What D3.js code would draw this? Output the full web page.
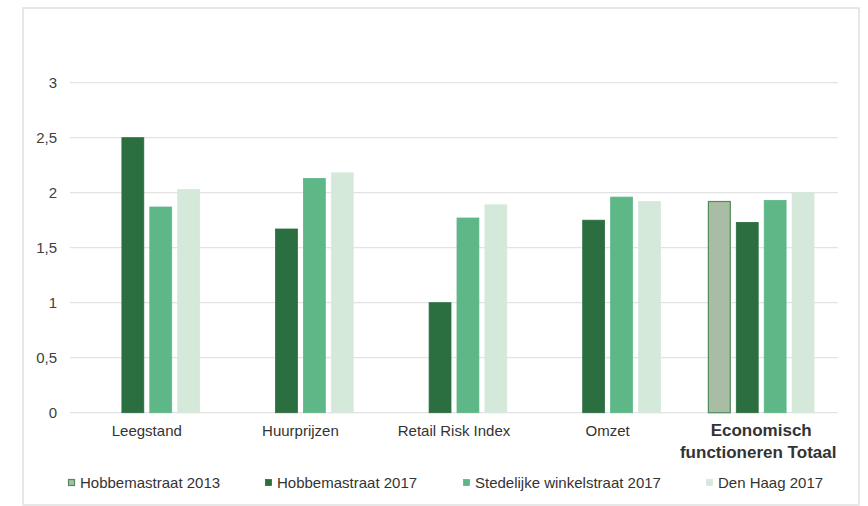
<!DOCTYPE html>
<html><head><meta charset="utf-8">
<script src="https://cdn.jsdelivr.net/npm/d3@7/dist/d3.min.js"></script>
<style>
html,body{margin:0;padding:0;background:#fff;}
svg{display:block;font-family:"Liberation Sans",Arial,sans-serif;}
</style></head>
<body><svg id="c" width="868" height="506"></svg>
<script>
const categories = ["Leegstand","Huurprijzen","Retail Risk Index","Omzet","Economisch functioneren Totaal"];
const seriesNames = ["Hobbemastraat 2013","Hobbemastraat 2017","Stedelijke winkelstraat 2017","Den Haag 2017"];
const hobbema2013 = [null,null,null,null,1.92];
const hobbema2017 = [2.50,1.67,1.00,1.75,1.73];
const stedelijk2017 = [1.87,2.13,1.77,1.96,1.93];
const denHaag2017 = [2.03,2.18,1.89,1.92,2.00];
const yTicks = [0,0.5,1,1.5,2,2.5,3];
const yTickLabels = ["0","0,5","1","1,5","2","2,5","3"];

const seriesValues = [hobbema2013,hobbema2017,stedelijk2017,denHaag2017];
const fills = ["#a8bda4","#2b6e3f","#5eb787","#d4e9da"];
const strokes = ["#4e8c5e","#2b6e3f","#5eb787","#d4e9da"];

const svg = d3.select("#c");
// outer border
svg.append("rect").attr("x",23).attr("y",8).attr("width",836).attr("height",497)
  .attr("fill","none").attr("stroke","#e0e0e0").attr("stroke-width",1.5);

const x0 = d3.scaleBand().domain(categories).range([70,838]).paddingInner(0).paddingOuter(0);
const groupW = 106.6;
const x1 = d3.scaleBand().domain(seriesNames).range([0,groupW]).paddingInner(0.18).paddingOuter(0);
const y = d3.scaleLinear().domain([0,3]).range([412.7,82.7]);

// gridlines
svg.append("g").selectAll("line").data(yTicks).join("line")
  .attr("x1",70).attr("x2",838).attr("y1",d=>y(d)).attr("y2",d=>y(d))
  .attr("stroke","#e3e3e3").attr("stroke-width",1.3);

// y labels
svg.append("g").selectAll("text").data(yTicks).join("text")
  .attr("x",57).attr("y",d=>y(d)).attr("dy","0.35em").attr("text-anchor","end")
  .attr("font-size",15).attr("fill","#404040").text((d,i)=>yTickLabels[i]);

// bars
const bars = [];
categories.forEach((c,ci)=>{
  seriesNames.forEach((s,si)=>{
    const v = seriesValues[si][ci];
    if(v!=null) bars.push({c,s,si,v});
  });
});
svg.append("g").selectAll("rect").data(bars).join("rect")
  .attr("x",d=>x0(d.c)+(x0.bandwidth()-groupW)/2+x1(d.s)+0.5)
  .attr("y",d=>y(d.v))
  .attr("width",x1.bandwidth()-1)
  .attr("height",d=>y(0)-y(d.v))
  .attr("fill",d=>fills[d.si])
  .attr("stroke",d=>strokes[d.si])
  .attr("stroke-width",d=>d.si===0?1.2:0.8);

// category labels
const catG = svg.append("g");
categories.forEach((c,i)=>{
  const cx = x0(c)+x0.bandwidth()/2;
  if(i===4){
    const t = catG.append("text").attr("text-anchor","middle").attr("font-size",17)
      .attr("font-weight","bold").attr("fill","#333");
    t.append("tspan").attr("x",cx).attr("y",436).text("Economisch");
    t.append("tspan").attr("x",cx-3).attr("y",458).text("functioneren Totaal");
  } else {
    catG.append("text").attr("x",cx).attr("y",436).attr("text-anchor","middle")
      .attr("font-size",15).attr("fill","#333").text(c);
  }
});

// legend
const legX = [68,265,463,706];
const leg = svg.append("g");
seriesNames.forEach((s,i)=>{
  leg.append("rect").attr("x",legX[i]+0.5).attr("y",479.5).attr("width",6).attr("height",6)
    .attr("fill",fills[i]).attr("stroke",strokes[i]).attr("stroke-width",i===0?1.2:0.8);
  leg.append("text").attr("x",legX[i]+12).attr("y",483).attr("dy","0.35em")
    .attr("font-size",15).attr("fill","#333").text(s);
});
</script></body></html>
